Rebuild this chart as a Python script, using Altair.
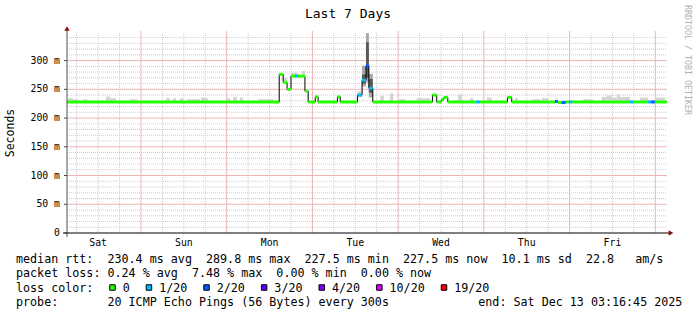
import altair as alt
import pandas as pd

# ---------------- data (x = hours since Sat Dec 6 2025 00:00, y = ms) ----------------
X_START = 3.28
X_END = 171.28
Y_MAX = 348

day_names = ["Sat", "Sun", "Mon", "Tue", "Wed", "Thu", "Fri"]
day_noon = [12, 36, 60, 84, 108, 132, 156]
y_ticks = [0, 50, 100, 150, 200, 250, 300]
y_tick_labels = ["0  ", "50 m", "100 m", "150 m", "200 m", "250 m", "300 m"]

# median rtt, step segments (start hour, value ms, lost pings of 20)
med_start = [3.28, 62.7, 63.8, 64.9, 66.0, 67.1, 67.9, 69.9, 70.8, 72.8, 73.6, 79.0, 79.8,
             84.6, 85.9, 87.0, 87.8, 88.9, 105.6, 106.8, 108.1, 108.8, 109.9, 117.8, 118.9,
             126.6, 127.8, 139.9, 140.7, 141.8, 142.9, 143.8, 144.8, 160.9, 161.8, 165.9,
             166.8, 167.9]
med_ms = [228, 276, 262, 250, 273, 273, 273, 247, 228, 237, 228, 237, 228,
          240, 266, 291, 252, 228, 240, 228, 232, 236, 228, 228, 228,
          236, 228, 229, 227, 227, 228, 228, 228, 228, 228, 228,
          228, 228]
med_loss = [0, 0, 0, 0, 0, 1, 0, 0, 0, 0, 0, 0, 0,
            1, 1, 2, 1, 0, 0, 0, 0, 0, 0, 1, 0,
            0, 0, 2, 0, 2, 0, 1, 0, 1, 0, 1,
            2, 0]

# light smoke (spread of the other pings)
smoke_start = [3.6, 5.2, 7.8, 14.2, 15.3, 20.9, 31.0, 33.0, 34.9, 36.9, 40.8, 41.6, 48.1, 49.8,
               51.7, 56.8, 63.8, 66.0, 69.1, 84.6, 91.0, 93.7, 96.0, 101.2, 112.8, 116.1,
               120.8, 128.7, 133.4, 136.2, 147.8, 153.0, 154.4, 155.8, 157.2, 158.1, 163.7, 168.0]
smoke_end = [5.0, 6.4, 8.9, 15.3, 17.0, 22.9, 32.1, 33.8, 35.8, 40.5, 41.6, 42.8, 48.9, 50.9,
             52.6, 61.0, 64.9, 67.9, 69.9, 85.9, 92.0, 94.6, 97.9, 104.9, 113.8, 117.0,
             122.2, 129.6, 135.7, 138.0, 150.6, 154.4, 155.8, 157.2, 158.1, 160.9, 166.0, 170.7]
smoke_lo = [228, 228, 228, 228, 228, 228, 228, 228, 228, 228, 228, 228, 228, 228,
            228, 228, 262, 273, 273, 236, 228, 228, 228, 228, 228, 228,
            228, 228, 228, 228, 228, 228, 228, 228, 228, 228, 228, 228]
smoke_hi = [234.5, 232.8, 232.8, 237.5, 234.5, 232.8, 234.5, 234.5, 234.5, 232.8, 235.7, 234.5,
            234.5, 236.8, 235.7, 232.8, 270, 279, 282, 247, 238.5, 243, 232.8, 234.5, 241.5,
            234.5, 235.7, 234.5, 232.8, 234.5, 232.8, 236.8, 239.5, 235.7, 241, 236.8, 235.7,
            235.7]

# heavy smoke during the Tuesday spike
spike_start = [85.9, 87.0, 87.8]
spike_end = [87.0, 87.8, 88.9]
spike_lo = [255, 262, 236]
spike_hi = [291, 349, 277]
spike_core_lo = [260, 270, 244]
spike_core_hi = [276, 332, 268]

# loss colour legend
loss_codes = [0, 1, 2, 3, 4, 10, 19]
loss_labels = ["0", "1/20", "2/20", "3/20", "4/20", "10/20", "19/20"]
loss_colors = ["#26ff00", "#00b8ff", "#0059ff", "#5e00ff", "#7e00ff", "#dd00ff", "#ff0000"]

title_text = "Last 7 Days"
y_title = "Seconds"
legend_lines = [
    "median rtt:  230.4 ms avg  289.8 ms max  227.5 ms min  227.5 ms now  10.1 ms sd  22.8   am/s",
    "packet loss: 0.24 % avg  7.48 % max  0.00 % min  0.00 % now",
    "loss color:",
    "probe:       20 ICMP Echo Pings (56 Bytes) every 300s",
]
end_text = "end: Sat Dec 13 03:16:45 2025"
watermark = "RRDTOOL / TOBI OETIKER"

# ---------------- chart ----------------
W, H = 600, 200
PL, PT = 67, 33
MONO = "DejaVu Sans Mono"
NB = "\u00a0"

xs = alt.Scale(domain=[X_START, X_END], nice=False, zero=False)
ys = alt.Scale(domain=[0, Y_MAX], nice=False)
loss_scale = alt.Scale(domain=loss_codes, range=loss_colors)

vminor = [h for h in range(6, 172, 6) if h % 24]
vmajor = list(range(24, 169, 24))
hminor = [v for v in range(10, 341, 10) if v % 50]
hmajor = list(range(50, 301, 50))


def X(field):
    return alt.X(field, scale=xs, axis=None)


def Y(field):
    return alt.Y(field, scale=ys, axis=None)


gv_minor = alt.Chart(pd.DataFrame({"h": vminor})).mark_rule(
    color="#cdcdcd", strokeDash=[1, 1], strokeWidth=1
).encode(x=X("h:Q"), y=alt.value(0), y2=alt.value(H))
gh_minor = alt.Chart(pd.DataFrame({"v": hminor})).mark_rule(
    color="#cdcdcd", strokeDash=[1, 1], strokeWidth=1
).encode(y=Y("v:Q"), x=alt.value(0), x2=alt.value(W))
gv_major = alt.Chart(pd.DataFrame({"hm": vmajor})).mark_rule(
    color="#efb4b4", strokeWidth=1
).encode(x=X("hm:Q"), y=alt.value(-2), y2=alt.value(H))
gh_major = alt.Chart(pd.DataFrame({"vm": hmajor})).mark_rule(
    color="#efb4b4", strokeWidth=1
).encode(y=Y("vm:Q"), x=alt.value(0), x2=alt.value(W))

day_lab = alt.Chart(pd.DataFrame({"d": day_names, "h": day_noon})).mark_text(
    font=MONO, fontSize=9.8, color="black", align="center", baseline="top"
).encode(x=X("h:Q"), y=alt.value(H + 5), text="d:N")

ylab_df = pd.DataFrame({"v": y_ticks, "t": [s.replace(" ", NB) for s in y_tick_labels]})
y_lab = alt.Chart(ylab_df).mark_text(
    font=MONO, fontSize=9.8, color="black", align="right", baseline="middle", dx=-7
).encode(y=Y("v:Q"), x=alt.value(0), text="t:N")
y_tick = alt.Chart(ylab_df).mark_rule(color="#444444", strokeWidth=1).encode(
    y=Y("v:Q"), x=alt.value(-3), x2=alt.value(0))

smoke_df = pd.DataFrame({"s": smoke_start, "e": smoke_end, "lo": smoke_lo, "hi": smoke_hi})
smoke = alt.Chart(smoke_df).mark_rect(color="#d4d4d4", clip=True).encode(
    x=X("s:Q"), x2="e:Q", y=Y("lo:Q"), y2="hi:Q")

spike_df = pd.DataFrame({"s": spike_start, "e": spike_end, "lo": spike_lo, "hi": spike_hi,
                         "clo": spike_core_lo, "chi": spike_core_hi})
spike_outer = alt.Chart(spike_df).mark_rect(color="#a8a8a8", clip=True).encode(
    x=X("s:Q"), x2="e:Q", y=Y("lo:Q"), y2="hi:Q")
spike_core = alt.Chart(spike_df).mark_rect(color="#5a5a5a", clip=True).encode(
    x=X("s:Q"), x2="e:Q", y=Y("clo:Q"), y2="chi:Q")

med_df = pd.DataFrame({"s": med_start, "e": med_start[1:] + [X_END], "ms": med_ms, "loss": med_loss})
line_df = pd.DataFrame({"s": med_start + [X_END], "ms": med_ms + [med_ms[-1]]})
med_line = alt.Chart(line_df).mark_line(interpolate="step-after", color="black", strokeWidth=1).encode(
    x=X("s:Q"), y=Y("ms:Q"))
med_bar = alt.Chart(med_df).mark_rule(strokeWidth=3, strokeCap="butt").encode(
    x=X("s:Q"), x2="e:Q", y=Y("ms:Q"),
    color=alt.Color("loss:N", scale=loss_scale, legend=None))

one = pd.DataFrame({"k": [0]})
y_axis_line = alt.Chart(one).mark_rule(color="#555555", strokeWidth=1).encode(
    x=alt.value(0), y=alt.value(-3), y2=alt.value(204))
x_axis_line = alt.Chart(one).mark_rule(color="black", strokeWidth=1).encode(
    x=alt.value(-4), x2=alt.value(602), y=alt.value(H))
arrow_up = alt.Chart(one).mark_point(shape="triangle-up", filled=True, size=30, color="#8b1010", opacity=1).encode(
    x=alt.value(0), y=alt.value(-4.5))
arrow_right = alt.Chart(one).mark_point(shape="triangle-right", filled=True, size=30, color="#8b1010", opacity=1).encode(
    x=alt.value(604), y=alt.value(H))

title = alt.Chart(pd.DataFrame({"t": [title_text]})).mark_text(
    font=MONO, fontSize=13, color="black", align="center", baseline="middle"
).encode(text="t:N", x=alt.value(348 - PL), y=alt.value(14 - PT))

ytitle = alt.Chart(pd.DataFrame({"t": [y_title]})).mark_text(
    font=MONO, fontSize=11.5, color="black", align="center", baseline="middle", angle=270
).encode(text="t:N", x=alt.value(11 - PL), y=alt.value(133 - PT))

wm = alt.Chart(pd.DataFrame({"t": [watermark]})).mark_text(
    font=MONO, fontSize=8.3, color="#b0b0b0", align="left", baseline="middle", angle=90
).encode(text="t:N", x=alt.value(687 - PL), y=alt.value(5 - PT))

line_y = [259.3, 273.3, 287.5, 301.7]
leg_df = pd.DataFrame({
    "t": [s.replace(" ", NB) for s in legend_lines] + [end_text.replace(" ", NB)],
    "px": [16 - PL] * 4 + [478.3 - PL],
    "py": [v - PT for v in line_y] + [line_y[3] - PT],
})
legend_text = alt.Chart(leg_df).mark_text(
    font=MONO, fontSize=11.7, color="black", align="left", baseline="middle"
).encode(text="t:N", x=alt.X("px:Q", scale=None), y=alt.Y("py:Q", scale=None))

bx = []
pos = 109.3
for lab in loss_labels:
    bx.append(pos)
    pos += (len(lab) + 4) * 7.05 + 1.2
box_df = pd.DataFrame({"lab": loss_labels, "code": loss_codes,
                       "bxc": [b + 3.2 - PL for b in bx], "lx": [b + 13.4 - PL for b in bx]})
boxes = alt.Chart(box_df).mark_square(size=30, filled=True, stroke="black", strokeWidth=1, opacity=1).encode(
    x=alt.X("bxc:Q", scale=None), y=alt.value(line_y[2] - PT),
    color=alt.Color("code:N", scale=loss_scale, legend=None),
)
box_labels = alt.Chart(box_df).mark_text(
    font=MONO, fontSize=11.7, color="black", align="left", baseline="middle"
).encode(text="lab:N", x=alt.X("lx:Q", scale=None), y=alt.value(line_y[2] - PT))

chart = alt.layer(
    gv_minor, gh_minor, gv_major, gh_major,
    smoke, spike_outer, spike_core,
    med_line, med_bar,
    y_axis_line, x_axis_line, y_tick, arrow_up, arrow_right,
    day_lab, y_lab,
    title, ytitle, wm, legend_text, boxes, box_labels,
).properties(
    width=W, height=H,
    padding={"left": PL, "top": PT, "right": 697 - PL - W, "bottom": 315 - PT - H},
    autosize=alt.AutoSizeParams(type="none"),
    background="white",
).configure_view(stroke=None)

chart.save("out.html", embed_options={"renderer": "svg", "actions": False})
